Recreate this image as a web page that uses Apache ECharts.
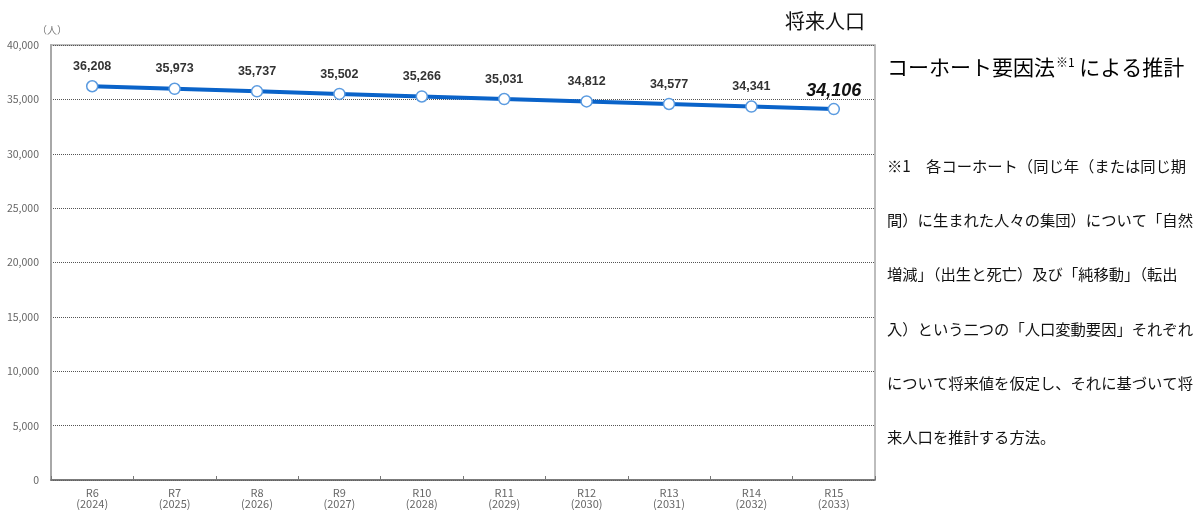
<!DOCTYPE html>
<html>
<head>
<meta charset="utf-8">
<script src="https://cdn.jsdelivr.net/npm/echarts@6/dist/echarts.min.js"></script>
<style>
html,body{margin:0;padding:0;background:#fff;}
#chart{width:1202px;height:510px;}
</style>
</head>
<body>
<div id="chart"></div>
<script>
var categories = ['R6\n(2024)','R7\n(2025)','R8\n(2026)','R9\n(2027)','R10\n(2028)','R11\n(2029)','R12\n(2030)','R13\n(2031)','R14\n(2032)','R15\n(2033)'];
var population = [36208, 35973, 35737, 35502, 35266, 35031, 34812, 34577, 34341, 34106];
var yTicks = {min: 0, max: 40000, interval: 5000};
var titleText = '将来人口';
var unitText = '（人）';
var methodMain = 'コーホート要因法';
var methodSup = '※1';
var methodTail = 'による推計';
var noteLines = [
  '※1　各コーホート（同じ年（または同じ期',
  '間）に生まれた人々の集団）について「自然',
  '増減」（出生と死亡）及び「純移動」（転出',
  '入）という二つの「人口変動要因」それぞれ',
  'について将来値を仮定し、それに基づいて将',
  '来人口を推計する方法。'
];

var FONT = '"Noto Sans CJK JP", "Noto Sans", sans-serif';
var chart = echarts.init(document.getElementById('chart'));

var seriesData = population.map(function (v, i) {
  if (i === population.length - 1) {
    return {value: v, label: {fontSize: 18, fontStyle: 'italic', fontWeight: 'bold', color: '#111', offset: [0, 4]}};
  }
  return v;
});

var graphics = [
  {type: 'text', left: 37, top: 25, style: {text: unitText, font: '10px ' + FONT, fill: '#777'}},
  {type: 'text', left: 887, top: 56, style: {
    text: '{a|' + methodMain + '}{s|' + methodSup + ' }{a|' + methodTail + '}',
    rich: {
      a: {fontSize: 21, fontFamily: FONT, color: '#111'},
      s: {fontSize: 12, fontFamily: FONT, color: '#111', verticalAlign: 'top', padding: [0, 2, 10, 1]}
    }
  }}
];
noteLines.forEach(function (t, i) {
  graphics.push({type: 'text', left: 887, top: 158.5 + i * 54.2, style: {text: t, font: '15.3px ' + FONT, fill: '#111'}});
});

chart.setOption({
  animation: false,
  backgroundColor: '#fff',
  title: {
    text: titleText, left: 780, top: 6,
    textStyle: {fontSize: 20, fontWeight: 'normal', fontFamily: FONT, color: '#111'}
  },
  grid: {left: 51, right: 327, top: 45, bottom: 30, show: true, borderColor: '#a8a8a8', borderWidth: 1.5, backgroundColor: 'transparent'},
  xAxis: {
    type: 'category',
    data: categories,
    boundaryGap: true,
    axisLine: {show: true, lineStyle: {color: '#666', width: 1.5}},
    axisTick: {show: true, inside: true, length: 4, lineStyle: {color: '#777'}},
    axisLabel: {fontSize: 11, color: '#666', lineHeight: 11.5, margin: 7, fontFamily: FONT}
  },
  yAxis: {
    type: 'value',
    min: yTicks.min, max: yTicks.max, interval: yTicks.interval,
    axisLine: {show: true, lineStyle: {color: '#a8a8a8', width: 2}},
    axisTick: {show: false},
    axisLabel: {fontSize: 10.5, color: '#666', margin: 12, fontFamily: FONT,
      formatter: function (v) { return v.toLocaleString('en-US'); }},
    splitLine: {show: true, lineStyle: {color: '#555', type: [1, 1], width: 1}}
  },
  series: [{
    type: 'line',
    data: seriesData,
    lineStyle: {color: '#0a63c9', width: 4},
    symbol: 'circle',
    symbolSize: 11,
    itemStyle: {color: '#fff', borderColor: '#5b9be0', borderWidth: 1.5},
    label: {show: true, position: 'top', distance: 7, fontSize: 12.5, fontWeight: 'bold', color: '#333', fontFamily: 'Liberation Sans, Arial, sans-serif',
      formatter: function (p) { return p.value.toLocaleString('en-US'); }},
    z: 3
  }],
  graphic: graphics
});
</script>
</body>
</html>
